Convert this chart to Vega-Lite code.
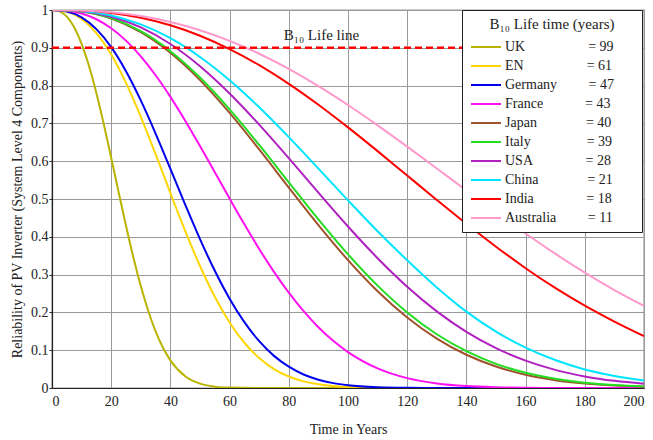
{
  "$schema": "https://vega.github.io/schema/vega-lite/v6.json",
  "width": 592,
  "height": 378,
  "autosize": {"type": "none"},
  "padding": {"left": 52, "top": 10, "right": 9, "bottom": 52},
  "background": "white",
  "config": {
    "view": {"stroke": "#333", "strokeWidth": 1.2},
    "font": "Liberation Serif",
    "style": {"guide-label": {"font": "Liberation Serif"}, "guide-title": {"font": "Liberation Serif"}},
    "axis": {
      "labelFont": "Liberation Serif",
      "labelFontSize": 14,
      "labelColor": "#222",
      "titleFont": "Liberation Serif",
      "titleFontSize": 14,
      "titleFontWeight": "normal",
      "titleColor": "#222",
      "grid": true,
      "gridColor": "#9a9a9a",
      "gridWidth": 1,
      "gridOpacity": 1,
      "domainColor": "#222",
      "domainWidth": 1.2,
      "tickColor": "#222"
    }
  },
  "encoding": {
    "x": {
      "field": "t", "type": "quantitative",
      "scale": {"domain": [0, 200], "nice": false},
      "axis": {"title": "Time in Years", "values": [0,20,40,60,80,100,120,140,160,180,200], "tickSize": 0, "labelPadding": 6, "titlePadding": 14, "grid": true, "labelFont": "Liberation Serif", "labelFontSize": 14}
    },
    "y": {
      "field": "r", "type": "quantitative",
      "scale": {"domain": [0, 1], "nice": false},
      "axis": {"title": "Reliability of PV Inverter (System Level 4 Components)", "values": [0,0.1,0.2,0.3,0.4,0.5,0.6,0.7,0.8,0.9,1], "format": ".1~f", "tickSize": 3, "labelPadding": 1, "titlePadding": 6, "grid": true, "labelOverlap": false, "labelFont": "Liberation Serif", "labelFontSize": 14}
    }
  },
  "layer": [
    {
      "data": {"values": [
        {"c":"UK","t":0,"r":1},{"c":"UK","t":2.5,"r":0.9966},{"c":"UK","t":5,"r":0.9824},{"c":"UK","t":7.5,"r":0.9541},{"c":"UK","t":10,"r":0.9104},{"c":"UK","t":12.5,"r":0.8519},{"c":"UK","t":15,"r":0.78},{"c":"UK","t":17.5,"r":0.698},{"c":"UK","t":20,"r":0.6093},{"c":"UK","t":22.5,"r":0.5183},{"c":"UK","t":25,"r":0.429},{"c":"UK","t":27.5,"r":0.3451},{"c":"UK","t":30,"r":0.2696},{"c":"UK","t":32.5,"r":0.2043},{"c":"UK","t":35,"r":0.1499},{"c":"UK","t":37.5,"r":0.1065},{"c":"UK","t":40,"r":0.0732},{"c":"UK","t":45,"r":0.0311},{"c":"UK","t":50,"r":0.0115},{"c":"UK","t":55,"r":0.0036},{"c":"UK","t":60,"r":0.001},{"c":"UK","t":70,"r":0.0001},{"c":"UK","t":80,"r":0},{"c":"UK","t":200,"r":0},
        {"c":"EN","t":0,"r":1},{"c":"EN","t":5,"r":0.9955},{"c":"EN","t":10,"r":0.9765},{"c":"EN","t":15,"r":0.939},{"c":"EN","t":20,"r":0.8822},{"c":"EN","t":25,"r":0.8071},{"c":"EN","t":30,"r":0.7175},{"c":"EN","t":35,"r":0.6185},{"c":"EN","t":40,"r":0.5158},{"c":"EN","t":45,"r":0.4155},{"c":"EN","t":50,"r":0.3227},{"c":"EN","t":55,"r":0.2413},{"c":"EN","t":60,"r":0.1735},{"c":"EN","t":65,"r":0.1197},{"c":"EN","t":70,"r":0.0792},{"c":"EN","t":75,"r":0.0501},{"c":"EN","t":80,"r":0.0304},{"c":"EN","t":85,"r":0.0176},{"c":"EN","t":90,"r":0.0097},{"c":"EN","t":95,"r":0.0051},{"c":"EN","t":100,"r":0.0026},{"c":"EN","t":110,"r":0.0005},{"c":"EN","t":120,"r":0.0001},{"c":"EN","t":130,"r":0},{"c":"EN","t":200,"r":0},
        {"c":"Germany","t":0,"r":1},{"c":"Germany","t":5,"r":0.9963},{"c":"Germany","t":10,"r":0.9806},{"c":"Germany","t":15,"r":0.9495},{"c":"Germany","t":20,"r":0.9019},{"c":"Germany","t":25,"r":0.8382},{"c":"Germany","t":30,"r":0.7609},{"c":"Germany","t":35,"r":0.6732},{"c":"Germany","t":40,"r":0.5797},{"c":"Germany","t":45,"r":0.4851},{"c":"Germany","t":50,"r":0.394},{"c":"Germany","t":55,"r":0.3101},{"c":"Germany","t":60,"r":0.2363},{"c":"Germany","t":65,"r":0.1741},{"c":"Germany","t":70,"r":0.1238},{"c":"Germany","t":75,"r":0.085},{"c":"Germany","t":80,"r":0.0563},{"c":"Germany","t":85,"r":0.0358},{"c":"Germany","t":90,"r":0.022},{"c":"Germany","t":95,"r":0.0129},{"c":"Germany","t":100,"r":0.0073},{"c":"Germany","t":110,"r":0.0021},{"c":"Germany","t":120,"r":0.0005},{"c":"Germany","t":130,"r":0.0001},{"c":"Germany","t":140,"r":0},{"c":"Germany","t":200,"r":0},
        {"c":"France","t":0,"r":1},{"c":"France","t":5,"r":0.9982},{"c":"France","t":10,"r":0.9907},{"c":"France","t":15,"r":0.9755},{"c":"France","t":20,"r":0.9517},{"c":"France","t":25,"r":0.919},{"c":"France","t":30,"r":0.8773},{"c":"France","t":35,"r":0.8274},{"c":"France","t":40,"r":0.7702},{"c":"France","t":45,"r":0.7073},{"c":"France","t":50,"r":0.6402},{"c":"France","t":55,"r":0.5709},{"c":"France","t":60,"r":0.5012},{"c":"France","t":65,"r":0.433},{"c":"France","t":70,"r":0.3679},{"c":"France","t":75,"r":0.3072},{"c":"France","t":80,"r":0.2522},{"c":"France","t":85,"r":0.2032},{"c":"France","t":90,"r":0.1608},{"c":"France","t":95,"r":0.1248},{"c":"France","t":100,"r":0.095},{"c":"France","t":110,"r":0.0519},{"c":"France","t":120,"r":0.0261},{"c":"France","t":130,"r":0.0121},{"c":"France","t":140,"r":0.0051},{"c":"France","t":150,"r":0.002},{"c":"France","t":160,"r":0.0007},{"c":"France","t":170,"r":0.0002},{"c":"France","t":180,"r":0.0001},{"c":"France","t":200,"r":0},
        {"c":"Japan","t":0,"r":1},{"c":"Japan","t":10,"r":0.9957},{"c":"Japan","t":20,"r":0.9775},{"c":"Japan","t":30,"r":0.9415},{"c":"Japan","t":40,"r":0.8867},{"c":"Japan","t":50,"r":0.8144},{"c":"Japan","t":60,"r":0.7276},{"c":"Japan","t":70,"r":0.631},{"c":"Japan","t":80,"r":0.5302},{"c":"Japan","t":90,"r":0.431},{"c":"Japan","t":100,"r":0.3383},{"c":"Japan","t":110,"r":0.256},{"c":"Japan","t":120,"r":0.1866},{"c":"Japan","t":130,"r":0.1308},{"c":"Japan","t":140,"r":0.088},{"c":"Japan","t":150,"r":0.0568},{"c":"Japan","t":160,"r":0.0351},{"c":"Japan","t":170,"r":0.0208},{"c":"Japan","t":180,"r":0.0118},{"c":"Japan","t":190,"r":0.0064},{"c":"Japan","t":200,"r":0.0033},
        {"c":"Italy","t":0,"r":1},{"c":"Italy","t":10,"r":0.9959},{"c":"Italy","t":20,"r":0.9784},{"c":"Italy","t":30,"r":0.9438},{"c":"Italy","t":40,"r":0.8911},{"c":"Italy","t":50,"r":0.8213},{"c":"Italy","t":60,"r":0.7371},{"c":"Italy","t":70,"r":0.643},{"c":"Italy","t":80,"r":0.5443},{"c":"Italy","t":90,"r":0.4461},{"c":"Italy","t":100,"r":0.3537},{"c":"Italy","t":110,"r":0.2708},{"c":"Italy","t":120,"r":0.1999},{"c":"Italy","t":130,"r":0.1422},{"c":"Italy","t":140,"r":0.0973},{"c":"Italy","t":150,"r":0.0639},{"c":"Italy","t":160,"r":0.0403},{"c":"Italy","t":170,"r":0.0244},{"c":"Italy","t":180,"r":0.0141},{"c":"Italy","t":190,"r":0.0078},{"c":"Italy","t":200,"r":0.0041},
        {"c":"USA","t":0,"r":1},{"c":"USA","t":10,"r":0.9966},{"c":"USA","t":20,"r":0.9823},{"c":"USA","t":30,"r":0.9538},{"c":"USA","t":40,"r":0.91},{"c":"USA","t":50,"r":0.8512},{"c":"USA","t":60,"r":0.7792},{"c":"USA","t":70,"r":0.6968},{"c":"USA","t":80,"r":0.608},{"c":"USA","t":90,"r":0.5168},{"c":"USA","t":100,"r":0.4273},{"c":"USA","t":110,"r":0.3434},{"c":"USA","t":120,"r":0.268},{"c":"USA","t":130,"r":0.2028},{"c":"USA","t":140,"r":0.1487},{"c":"USA","t":150,"r":0.1055},{"c":"USA","t":160,"r":0.0723},{"c":"USA","t":170,"r":0.0479},{"c":"USA","t":180,"r":0.0307},{"c":"USA","t":190,"r":0.0189},{"c":"USA","t":200,"r":0.0113},
        {"c":"China","t":0,"r":1},{"c":"China","t":10,"r":0.9972},{"c":"China","t":20,"r":0.9854},{"c":"China","t":30,"r":0.9618},{"c":"China","t":40,"r":0.9253},{"c":"China","t":50,"r":0.8757},{"c":"China","t":60,"r":0.8142},{"c":"China","t":70,"r":0.7427},{"c":"China","t":80,"r":0.6637},{"c":"China","t":90,"r":0.5805},{"c":"China","t":100,"r":0.4964},{"c":"China","t":110,"r":0.4146},{"c":"China","t":120,"r":0.338},{"c":"China","t":130,"r":0.266},{"c":"China","t":140,"r":0.202},{"c":"China","t":150,"r":0.149},{"c":"China","t":160,"r":0.107},{"c":"China","t":170,"r":0.074},{"c":"China","t":180,"r":0.049},{"c":"China","t":190,"r":0.032},{"c":"China","t":200,"r":0.02},
        {"c":"India","t":0,"r":1},{"c":"India","t":10,"r":0.9985},{"c":"India","t":20,"r":0.9922},{"c":"India","t":30,"r":0.9795},{"c":"India","t":40,"r":0.9596},{"c":"India","t":50,"r":0.932},{"c":"India","t":60,"r":0.8966},{"c":"India","t":70,"r":0.8539},{"c":"India","t":80,"r":0.8044},{"c":"India","t":90,"r":0.7492},{"c":"India","t":100,"r":0.6894},{"c":"India","t":110,"r":0.6266},{"c":"India","t":120,"r":0.5621},{"c":"India","t":130,"r":0.4976},{"c":"India","t":140,"r":0.4344},{"c":"India","t":150,"r":0.3738},{"c":"India","t":160,"r":0.3169},{"c":"India","t":170,"r":0.2647},{"c":"India","t":180,"r":0.2177},{"c":"India","t":190,"r":0.1755},{"c":"India","t":200,"r":0.137},
        {"c":"Australia","t":0,"r":1},{"c":"Australia","t":10,"r":0.9988},{"c":"Australia","t":20,"r":0.9939},{"c":"Australia","t":30,"r":0.984},{"c":"Australia","t":40,"r":0.9684},{"c":"Australia","t":50,"r":0.9466},{"c":"Australia","t":60,"r":0.9185},{"c":"Australia","t":70,"r":0.8843},{"c":"Australia","t":80,"r":0.8441},{"c":"Australia","t":90,"r":0.7986},{"c":"Australia","t":100,"r":0.7486},{"c":"Australia","t":110,"r":0.6949},{"c":"Australia","t":120,"r":0.6386},{"c":"Australia","t":130,"r":0.5808},{"c":"Australia","t":140,"r":0.5225},{"c":"Australia","t":150,"r":0.4648},{"c":"Australia","t":160,"r":0.4088},{"c":"Australia","t":170,"r":0.3553},{"c":"Australia","t":180,"r":0.3051},{"c":"Australia","t":190,"r":0.2589},{"c":"Australia","t":200,"r":0.217}
      ]},
      "mark": {"type": "line", "interpolate": "monotone", "strokeWidth": 2, "clip": true},
      "encoding": {
        "color": {
          "field": "c", "type": "nominal",
          "scale": {
            "domain": ["UK","EN","Germany","France","Japan","Italy","USA","China","India","Australia"],
            "range": ["#B8B400","#FFD700","#0000EE","#FF10F0","#A0522D","#22DD22","#B020C0","#00E5FF","#FF0000","#FF99CC"]
          },
          "legend": {
            "orient": "none", "legendX": 410, "legendY": 0,
            "title": "B₁₀ Life time (years)",
            "titleFont": "Liberation Serif", "titleFontSize": 15, "titleFontWeight": "normal", "titleColor": "#222",
            "titleAnchor": "middle", "titleAlign": "center", "titlePadding": 8,
            "labelFont": "Liberation Serif", "labelFontSize": 14, "labelColor": "#222", "labelOffset": 22, "labelLimit": 250,
            "symbolType": "M-1,0H5", "symbolSize": 100, "symbolStrokeWidth": 2,
            "rowPadding": 5, "padding": 7,
            "fillColor": "white", "strokeColor": "#222",
            "labelExpr": "{'UK':'UK\u00a0\u00a0\u00a0\u00a0\u00a0\u00a0\u00a0\u00a0\u00a0\u00a0\u00a0\u00a0\u00a0\u00a0\u00a0\u00a0\u00a0\u00a0=\u00a099\u00a0\u00a0\u00a0\u00a0\u00a0\u00a0\u200b','EN':'EN\u00a0\u00a0\u00a0\u00a0\u00a0\u00a0\u00a0\u00a0\u00a0\u00a0\u00a0\u00a0\u00a0\u00a0\u00a0\u00a0\u00a0\u00a0=\u00a061','Germany':'Germany\u00a0\u00a0\u00a0\u00a0\u00a0\u00a0\u00a0\u00a0\u00a0=\u00a047','France':'France\u00a0\u00a0\u00a0\u00a0\u00a0\u00a0\u00a0\u00a0\u00a0\u00a0\u00a0\u00a0=\u00a043','Japan':'Japan\u00a0\u00a0\u00a0\u00a0\u00a0\u00a0\u00a0\u00a0\u00a0\u00a0\u00a0\u00a0\u00a0\u00a0=\u00a040','Italy':'Italy\u00a0\u00a0\u00a0\u00a0\u00a0\u00a0\u00a0\u00a0\u00a0\u00a0\u00a0\u00a0\u00a0\u00a0\u00a0\u00a0=\u00a039','USA':'USA\u00a0\u00a0\u00a0\u00a0\u00a0\u00a0\u00a0\u00a0\u00a0\u00a0\u00a0\u00a0\u00a0\u00a0\u00a0=\u00a028','China':'China\u00a0\u00a0\u00a0\u00a0\u00a0\u00a0\u00a0\u00a0\u00a0\u00a0\u00a0\u00a0\u00a0\u00a0=\u00a021','India':'India\u00a0\u00a0\u00a0\u00a0\u00a0\u00a0\u00a0\u00a0\u00a0\u00a0\u00a0\u00a0\u00a0\u00a0\u00a0=\u00a018','Australia':'Australia\u00a0\u00a0\u00a0\u00a0\u00a0\u00a0\u00a0\u00a0\u00a0=\u00a011'}[datum.label]"
          }
        }
      }
    },
    {
      "data": {"values": [{"t": 0, "r": 0.9}, {"t": 200, "r": 0.9}]},
      "mark": {"type": "line", "color": "#FF0000", "strokeDash": [7, 4], "strokeWidth": 2.5}
    },
    {
      "data": {"values": [{"t": 91, "r": 0.935, "label": "B₁₀ Life line"}]},
      "mark": {"type": "text", "font": "Liberation Serif", "fontSize": 15, "color": "#222"},
      "encoding": {"text": {"field": "label"}}
    }
  ]
}
